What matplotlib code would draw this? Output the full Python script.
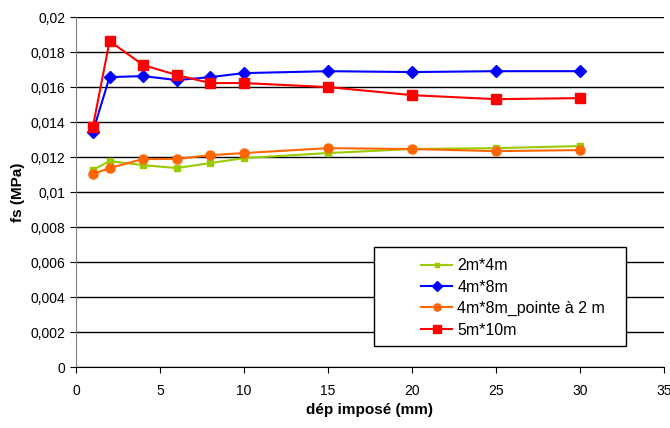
import matplotlib
matplotlib.use("Agg")
import matplotlib.pyplot as plt
from matplotlib.patches import Rectangle
from matplotlib.ticker import FuncFormatter

plt.rcParams['font.family'] = ['Liberation Sans', 'DejaVu Sans']

x = [1, 2, 4, 6, 8, 10, 15, 20, 25, 30]
s_2x4 = [0.01126, 0.01177, 0.01154, 0.01137, 0.01166, 0.01194, 0.01223, 0.01246, 0.01251, 0.01263]
s_4x8 = [0.01343, 0.01657, 0.01663, 0.0164, 0.01657, 0.0168, 0.01691, 0.01686, 0.01691, 0.01691]
s_4x8p = [0.01103, 0.01137, 0.01189, 0.01189, 0.01211, 0.01223, 0.01251, 0.01246, 0.01234, 0.0124]
s_5x10 = [0.01371, 0.01863, 0.01726, 0.01669, 0.01623, 0.01623, 0.0160, 0.01554, 0.01531, 0.01537]
labels = ["2m*4m", "4m*8m", "4m*8m_pointe à 2 m", "5m*10m"]

fig = plt.figure(figsize=(6.7, 4.28), dpi=100)
ax = fig.add_axes([0.1134, 0.1425, 0.8776, 0.8175])

ax.plot(x, s_2x4, color="#99cc00", marker="s", markersize=4, lw=1.5, label=labels[0])
ax.plot(x, s_4x8, color="#0000ff", marker="D", markersize=6, lw=1.5, label=labels[1])
ax.plot(x, s_4x8p, color="#ff6600", marker="o", markersize=6.5, lw=1.5, label=labels[2])
ax.plot(x, s_5x10, color="#ff0000", marker="s", markersize=7, lw=1.5, label=labels[3])

ax.set_xlim(0, 35)
ax.set_ylim(0, 0.02)
ax.set_xticks(range(0, 36, 5))
ax.set_yticks([i * 0.002 for i in range(11)])
ax.yaxis.set_major_formatter(FuncFormatter(lambda v, p: "0" if v == 0 else ("%g" % round(v, 4)).replace(".", ",")))
ax.yaxis.grid(True, color="black", lw=1)
ax.set_axisbelow(True)
for s in ["top", "right"]:
    ax.spines[s].set_visible(False)
ax.spines["left"].set_color("#808080")
ax.spines["bottom"].set_color("black")
ax.tick_params(labelsize=10, direction="out", length=4)
ax.tick_params(axis="x", pad=8)

ax.set_xlabel("dép imposé (mm)", fontsize=11, fontweight="bold")
ax.set_ylabel("fs (MPa)", fontsize=11, fontweight="bold")

# legend frame drawn separately (wide left padding as in the original)
ax.add_patch(Rectangle((0.507, 0.06), 0.428, 0.283, transform=ax.transAxes, facecolor="white",
                       edgecolor="black", lw=1, zorder=5, clip_on=False))
leg = ax.legend(loc="upper left", bbox_to_anchor=(0.586, 0.311), fontsize=11.5, frameon=False,
                handlelength=2, handletextpad=0.3, borderpad=0, labelspacing=0.4,
                borderaxespad=0, markerscale=0.8)
leg.set_zorder(6)

fig.savefig("out.png", dpi=100)
